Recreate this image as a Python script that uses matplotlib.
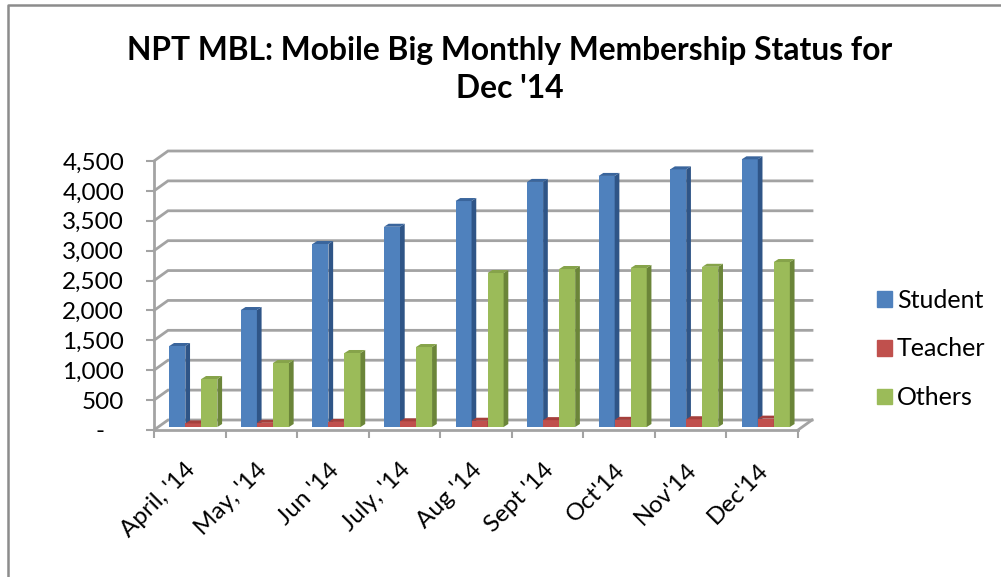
import matplotlib
matplotlib.use("Agg")
import matplotlib.pyplot as plt
from matplotlib.lines import Line2D
from matplotlib.patches import Polygon

months = ["April, '14", "May, '14", "Jun '14", "July, '14", "Aug '14", "Sept '14", "Oct'14", "Nov'14", "Dec'14"]
student = [1355, 1957, 3061, 3350, 3780, 4100, 4200, 4310, 4478]
teacher = [60, 70, 85, 95, 105, 115, 120, 130, 140]
others = [803, 1070, 1238, 1338, 2576, 2643, 2660, 2680, 2760]
y_ticks = [0, 500, 1000, 1500, 2000, 2500, 3000, 3500, 4000, 4500]
y_labels = ["-   ", "500", "1,000", "1,500", "2,000", "2,500", "3,000", "3,500", "4,000", "4,500"]

W, H = 1001, 577
GRID = "#a3a3a3"

plt.rcParams["font.family"] = ["Lato", "DejaVu Sans"]

fig = plt.figure(figsize=(W / 100, H / 100), dpi=100)
ax = fig.add_axes([154 / W, 1 - 430 / H, (798 - 154) / W, (430 - 161) / H])
ax.set_xlim(0, 9)
ax.set_ylim(0, 4500)

# pixel -> data sizes for the fake 3d offsets
px_x = 9 / (798 - 154)
px_y = 4500 / (430 - 161)

# back wall and floor
wall_dx, wall_dy = 14 * px_x, 10 * px_y
for v in y_ticks:
    ax.plot([0, wall_dx, 9 + wall_dx], [v, v + wall_dy, v + wall_dy], color=GRID, lw=2, clip_on=False, zorder=1,
            solid_joinstyle="miter")
ax.plot([9, 9 + wall_dx], [0, wall_dy], color=GRID, lw=2, clip_on=False, zorder=1)


def bar3d(x, width, value, front, side, top):
    off_x, off_y = 3.5 * px_x, 3 * px_y
    d_x, d_y = 4.7 * px_x, 3 * px_y
    x0 = x + off_x
    x1 = x0 + width
    y1 = value + off_y
    ax.bar(x0, value, width, bottom=off_y, align="edge", color=front, clip_on=False, zorder=3)
    ax.add_patch(Polygon([(x1, off_y), (x1 + d_x, off_y + d_y), (x1 + d_x, y1 + d_y), (x1, y1)],
                         color=side, lw=0, clip_on=False, zorder=3))
    ax.add_patch(Polygon([(x0, y1), (x0 + d_x, y1 + d_y), (x1 + d_x, y1 + d_y), (x1, y1)],
                         color=top, lw=0, clip_on=False, zorder=3))


bar_w = 0.224
start = 0.165
for i in range(len(months)):
    bar3d(i + start, bar_w, student[i], "#4f81bd", "#2f5587", "#3a659c")
    bar3d(i + start + bar_w, bar_w, teacher[i], "#c0504d", "#8c3836", "#a53f3c")
    bar3d(i + start + 2 * bar_w, bar_w, others[i], "#9bbb59", "#6b8539", "#86a34a")

# axes
for s in ["top", "right"]:
    ax.spines[s].set_visible(False)
for s in ["left", "bottom"]:
    ax.spines[s].set_color(GRID)
    ax.spines[s].set_linewidth(2)
    ax.spines[s].set_zorder(4)

ax.set_yticks(y_ticks)
ax.set_yticklabels(y_labels, fontsize=17.5, color="black")
ax.tick_params(axis="y", length=5.5, width=1.5, color=GRID, pad=16)

ax.set_xticks(range(10))
ax.set_xticklabels([])
ax.set_xticks([i + 0.43 for i in range(9)], minor=True)
ax.set_xticklabels(months, minor=True, rotation=45, ha="right", va="top", rotation_mode="anchor", fontsize=17.5,
                   color="black")
ax.tick_params(axis="x", which="major", length=5.5, width=1.5, color=GRID)
ax.tick_params(axis="x", which="minor", length=0, pad=21)

fig.text(510 / W, 1 - 69.5 / H, "NPT MBL: Mobile Big Monthly Membership Status for\nDec '14", ha="center", va="center",
         fontsize=22.9, fontweight="bold", linespacing=1.35)

handles = [plt.Rectangle((0, 0), 1, 1, color=c) for c in ["#4f81bd", "#c0504d", "#9bbb59"]]
fig.legend(handles, ["Student", "Teacher", "Others"], loc="center left", bbox_to_anchor=(872 / W, 1 - 349 / H),
           frameon=False, fontsize=18, handlelength=0.6, handleheight=0.6, handletextpad=0.2, labelspacing=1.03,
           borderpad=0.2, borderaxespad=0)

# chart frame
fig.add_artist(Line2D([8 / W, 8 / W, 1], [0, 1 - 5 / H, 1 - 5 / H], color="#8c8c8c", lw=1.8))

fig.savefig("out.png", dpi=100)
